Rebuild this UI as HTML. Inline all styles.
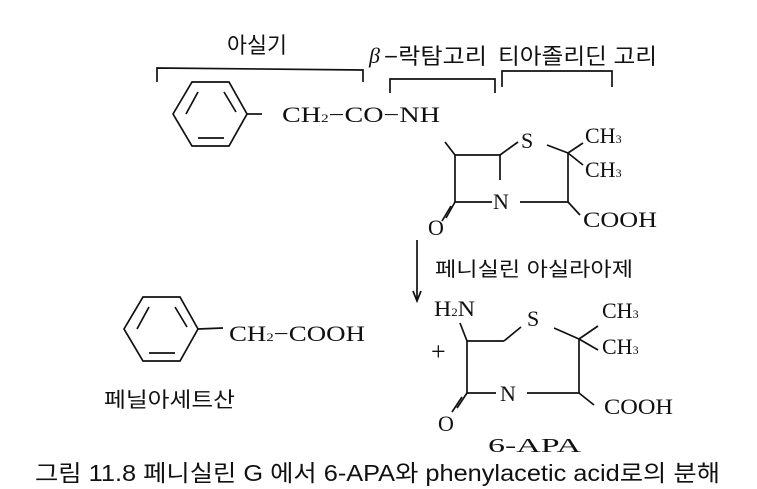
<!DOCTYPE html>
<html><head><meta charset="utf-8"><style>
html,body{margin:0;padding:0;background:#fff;width:757px;height:489px;overflow:hidden}
svg{display:block}
.k{font-family:"Liberation Sans","Noto Sans CJK KR",sans-serif;fill:#111}
.s{font-family:"Liberation Serif","Noto Serif CJK SC",serif;fill:#111}
</style></head><body>
<svg width="757" height="489" viewBox="0 0 757 489" xmlns="http://www.w3.org/2000/svg">
<g stroke="#111" stroke-width="1.7" fill="none">
<polyline points="157,82 157,68 363,70 363,82"/>
<polyline points="390,93 390,79 495,79 495,93"/>
<polyline points="502,87 502,71 612,71 612,87"/>
<polygon points="173,114 192,82 229,82 247,114 229,146 192,146"/>
<line x1="186" y1="114" x2="198" y2="92"/><line x1="198" y1="138" x2="224" y2="138"/><line x1="224" y1="92" x2="236" y2="112"/>
<line x1="247" y1="114" x2="262" y2="114"/>
<line x1="445" y1="142" x2="455" y2="155"/>
<line x1="455" y1="155" x2="500" y2="155"/>
<line x1="455" y1="155" x2="455" y2="202"/>
<line x1="500" y1="155" x2="500" y2="180"/>
<line x1="455" y1="202" x2="492" y2="202"/>
<line x1="500" y1="155" x2="518" y2="142"/>
<line x1="547" y1="145" x2="568" y2="153"/>
<line x1="568" y1="153" x2="568" y2="202"/>
<line x1="520" y1="202" x2="568" y2="202"/>
<line x1="568" y1="153" x2="583" y2="143"/>
<line x1="568" y1="153" x2="583" y2="165"/>
<line x1="568" y1="202" x2="580" y2="215"/>
<line x1="455" y1="202" x2="446" y2="218"/><line x1="451" y1="206" x2="442" y2="221"/>
<line x1="417" y1="240" x2="417" y2="300"/>
<polyline points="413,291 417,301 421,291"/>
<polygon points="124,329 143,297 180,297 198,329 180,361 143,361"/>
<line x1="137" y1="329" x2="149" y2="307"/><line x1="149" y1="353" x2="175" y2="353"/><line x1="175" y1="307" x2="187" y2="327"/>
<line x1="198" y1="329" x2="223" y2="328"/>
<line x1="460" y1="323" x2="467" y2="341"/>
<line x1="467" y1="341" x2="504" y2="341"/>
<line x1="504" y1="341" x2="521" y2="327"/>
<line x1="554" y1="328" x2="579" y2="339"/>
<line x1="579" y1="339" x2="579" y2="393"/>
<line x1="467" y1="341" x2="467" y2="393"/>
<line x1="467" y1="393" x2="496" y2="393"/>
<line x1="527" y1="393" x2="579" y2="393"/>
<line x1="579" y1="339" x2="598" y2="326"/>
<line x1="579" y1="339" x2="598" y2="350"/>
<line x1="579" y1="393" x2="594" y2="405"/>
<line x1="467" y1="393" x2="457" y2="408"/><line x1="462" y1="397" x2="452" y2="412"/>
</g>
<g class="k" font-size="22" lengthAdjust="spacingAndGlyphs">
<text x="227" y="53" textLength="60" lengthAdjust="spacingAndGlyphs">아실기</text>
<text x="384" y="64" textLength="103" lengthAdjust="spacingAndGlyphs">−락탐고리</text>
<text x="498" y="64" textLength="159" lengthAdjust="spacingAndGlyphs">티아졸리딘 고리</text>
<text x="435" y="276" font-size="20" textLength="198" lengthAdjust="spacingAndGlyphs">페니실린 아실라아제</text>
<text x="104" y="407" font-size="21" textLength="131" lengthAdjust="spacingAndGlyphs">페닐아세트산</text>
<text x="35" y="481" font-size="23" textLength="685" lengthAdjust="spacingAndGlyphs">그림  11.8 페니실린 G 에서  6-APA와  phenylacetic  acid로의 분해</text>
</g>
<g class="s" font-size="22">
<text x="369" y="63" font-style="italic">β</text>
<text x="282" y="122" textLength="158" lengthAdjust="spacingAndGlyphs">CH<tspan font-size="12">2</tspan>−CO−NH</text>
<text x="521" y="148">S</text>
<text x="585" y="143">CH<tspan font-size="12">3</tspan></text>
<text x="585" y="177">CH<tspan font-size="12">3</tspan></text>
<text x="493" y="209">N</text>
<text x="583" y="227" textLength="74" lengthAdjust="spacingAndGlyphs">COOH</text>
<text x="428" y="235">O</text>
<text x="229" y="341" textLength="136" lengthAdjust="spacingAndGlyphs">CH<tspan font-size="12">2</tspan>−COOH</text>
<text x="434" y="316" textLength="41" lengthAdjust="spacingAndGlyphs">H<tspan font-size="12">2</tspan>N</text>
<text x="431" y="360" font-size="26">+</text>
<text x="527" y="326">S</text>
<text x="602" y="318">CH<tspan font-size="12">3</tspan></text>
<text x="602" y="354">CH<tspan font-size="12">3</tspan></text>
<text x="500" y="401">N</text>
<text x="604" y="414" textLength="69" lengthAdjust="spacingAndGlyphs">COOH</text>
<text x="438" y="431">O</text>
<text x="488" y="452" font-size="20" textLength="93" lengthAdjust="spacingAndGlyphs">6-APA</text>
</g>
</svg>
</body></html>
